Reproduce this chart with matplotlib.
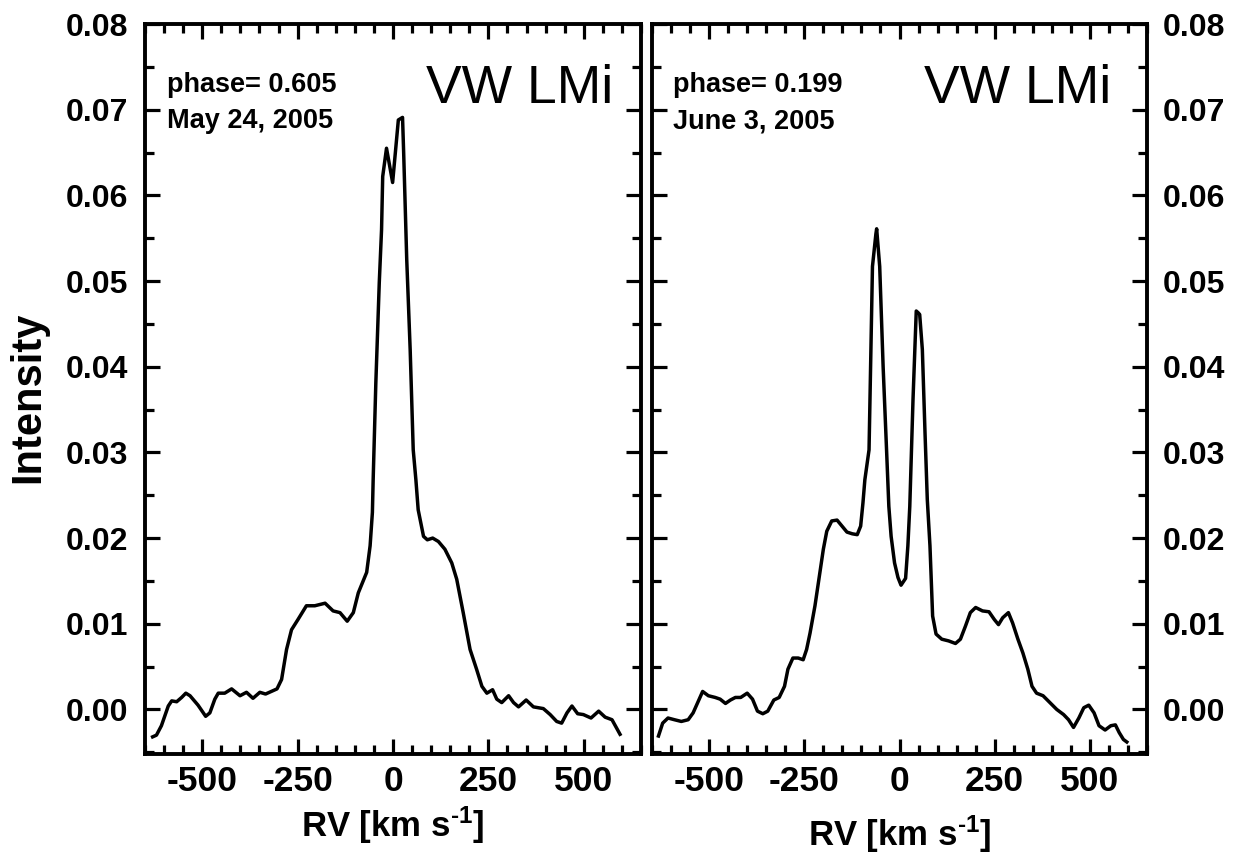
import matplotlib
matplotlib.use("Agg")
import matplotlib.pyplot as plt
from matplotlib.ticker import MultipleLocator, FormatStrFormatter

plt.rcParams['font.family'] = ['Liberation Sans', 'DejaVu Sans']
plt.rcParams['font.weight'] = 'bold'
plt.rcParams['axes.unicode_minus'] = False
plt.rcParams['mathtext.fontset'] = 'custom'
plt.rcParams['mathtext.rm'] = 'Liberation Sans:bold'
plt.rcParams['mathtext.bf'] = 'Liberation Sans:bold'
plt.rcParams['mathtext.default'] = 'rm'

# ---- data ----
rv_a = [-630, -620, -607, -589, -580, -567, -554, -543, -532, -511, -491, -480, -467, -458,
        -441, -423, -401, -384, -367, -349, -334, -319, -304, -292, -279, -266, -249, -227,
        -205, -178, -157, -139, -120, -104, -91, -80, -69, -60, -54, -52, -45, -36, -30, -27,
        -17, -1, 14, 25, 28, 36, 45, 53, 60, 66, 80, 90, 104, 119, 136, 154, 167, 184, 202,
        219, 233, 246, 261, 272, 285, 303, 316, 329, 349, 368, 394, 412, 429, 442, 456, 469,
        484, 499, 519, 539, 556, 574, 595]
int_a = [-3.2, -3.0, -1.9, 0.4, 1.0, 0.9, 1.4, 1.9, 1.6, 0.5, -0.8, -0.4, 1.2, 1.9,
         1.9, 2.4, 1.6, 2.0, 1.3, 2.0, 1.8, 2.1, 2.4, 3.5, 7.0, 9.3, 10.5, 12.1,
         12.1, 12.4, 11.5, 11.3, 10.3, 11.3, 13.6, 14.8, 16.0, 19.1, 23.0, 26.8, 38.1, 49.8, 56.0, 62.2,
         65.5, 61.5, 68.8, 69.1, 64.9, 52.5, 42.0, 30.3, 26.8, 23.3, 20.2, 19.8, 20.0, 19.6, 18.7, 17.1, 15.2, 11.3, 7.0,
         4.7, 2.7, 1.9, 2.3, 1.2, 0.8, 1.6, 0.8, 0.3, 1.1, 0.3, 0.1, -0.6, -1.4, -1.6, -0.4, 0.4,
         -0.5, -0.6, -1.0, -0.2, -0.9, -1.2, -2.9]

rv_b = [-633, -622, -608, -591, -573, -555, -542, -528, -517, -502, -484, -471, -457, -444,
        -431, -417, -400, -386, -373, -359, -346, -330, -316, -302, -293, -280, -266, -253,
        -244, -235, -222, -209, -200, -191, -178, -164, -151, -138, -124, -111, -102, -96,
        -91, -80, -71, -62, -60, -52, -43, -34, -28, -22, -13, -4, 4, 16, 22, 27, 35.5, 44,
        49, 53, 60, 67, 73, 80, 87, 96, 111, 129, 147, 160, 173, 186, 200, 218, 235, 249,
        260, 271, 286, 297, 311, 324, 337, 348, 360, 377, 395, 413, 431, 444, 457, 471, 484,
        497, 511, 524, 540, 555, 567, 577, 588, 597]
int_b = [-3.1, -1.6, -1.0, -1.2, -1.4, -1.2, -0.4, 1.0, 2.1, 1.6, 1.4, 1.2, 0.7, 1.1,
         1.4, 1.4, 1.9, 1.2, -0.2, -0.5, -0.2, 1.1, 1.4, 2.7, 4.7, 6.0, 6.0, 5.8,
         7.0, 8.9, 12.1, 16.0, 18.7, 20.8, 22.0, 22.1, 21.4, 20.7, 20.5, 20.4, 21.4, 24.1,
         26.8, 30.3, 51.7, 55.5, 56.1, 51.7, 40.0, 30.3, 23.7, 20.2, 17.1, 15.4, 14.5, 15.3, 19.1, 23.7, 36.2, 46.5,
         46.3, 46.1, 42.0, 32.3, 24.5, 19.1, 10.9, 8.8, 8.2, 8.0, 7.7, 8.2, 9.7, 11.3, 11.9, 11.5, 11.4, 10.5,
         9.9, 10.7, 11.3, 10.1, 8.2, 6.6, 4.7, 2.7, 1.9, 1.6, 0.8, 0.0, -0.6, -1.2, -2.1, -1.0, 0.2,
         0.5, -0.4, -1.9, -2.4, -1.9, -1.8, -2.7, -3.5, -3.8]

star = "VW LMi"
phases = ["phase= 0.605", "phase= 0.199"]
dates = ["May 24, 2005", "June 3, 2005"]
xticks = [-500, -250, 0, 250, 500]

W, H = 1245, 856
fig = plt.figure(figsize=(W / 100, H / 100), dpi=100)

ax1 = fig.add_axes([145 / W, 1 - 754 / H, 496 / W, 730 / H])
ax2 = fig.add_axes([652 / W, 1 - 754 / H, 495 / W, 730 / H])

series = [(rv_a, int_a), (rv_b, int_b)]
for i, ax in enumerate([ax1, ax2]):
    rv, inten = series[i]
    ax.plot(rv, [v / 1000 for v in inten], color='black', lw=2.5, solid_joinstyle='round')
    ax.set_xlim(-650, 650)
    ax.set_ylim(-0.0052, 0.08)
    ax.set_xticks(xticks)
    ax.xaxis.set_minor_locator(MultipleLocator(50))
    ax.yaxis.set_major_locator(MultipleLocator(0.01))
    ax.yaxis.set_minor_locator(MultipleLocator(0.005))
    ax.yaxis.set_major_formatter(FormatStrFormatter('%.2f'))
    for s in ax.spines.values():
        s.set_linewidth(2.8)
    ax.tick_params(which='both', direction='in', top=True, bottom=True, left=True, right=True,
                   width=2.3)
    ax.tick_params(which='major', length=11)
    ax.tick_params(which='minor', length=6.5)
    ax.tick_params(axis='x', which='major', labelsize=25.5, pad=8)
    ax.tick_params(axis='y', which='major', labelsize=23, pad=12)
    xlabel_y = -0.1137 if i == 0 else -0.126
    ax.set_xlabel(r"RV [km s$^{\text{-1}}$]", fontsize=25, fontweight='bold', va='baseline')
    ax.xaxis.set_label_coords(0.5, xlabel_y)

    px = 0.0444 if i == 0 else 0.0424
    ax.text(px, 0.9068, phases[i], transform=ax.transAxes, fontsize=19.5, fontweight='bold',
            ha='left', va='baseline')
    ax.text(px, 0.8575, dates[i], transform=ax.transAxes, fontsize=19.5, fontweight='bold',
            ha='left', va='baseline')
    vx = 0.945 if i == 0 else 0.927
    ax.text(vx, 0.8918, star, transform=ax.transAxes, fontsize=38.5, fontweight='normal',
            ha='right', va='baseline')

ax2.tick_params(axis='y', which='both', labelleft=False, labelright=True, pad=11.5)

fig.text(28.6 / W, 1 - 397 / H, "Intensity", rotation=90, ha='center', va='center',
         fontsize=30, fontweight='bold')

fig.savefig("out.png", dpi=100)
